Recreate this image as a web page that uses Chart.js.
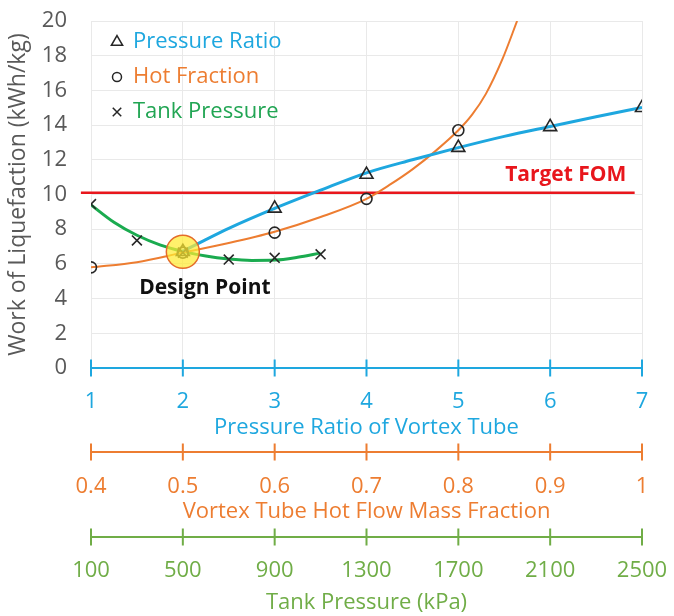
<!DOCTYPE html>
<html>
<head>
<meta charset="utf-8">
<title>Work of Liquefaction</title>
<script src="https://cdn.jsdelivr.net/npm/chart.js@4.4.1/dist/chart.umd.min.js"></script>
<style>
  html, body { margin: 0; padding: 0; background: #fff; }
  #wrap { width: 674px; height: 616px; position: relative; }
</style>
</head>
<body>
<div id="wrap"><canvas id="chart"></canvas></div>
<script>
// tick labels of the three stacked x axes
const ratioTicks = [1, 2, 3, 4, 5, 6, 7];
const hotTicks = [0.4, 0.5, 0.6, 0.7, 0.8, 0.9, 1];
const tankTicks = [100, 500, 900, 1300, 1700, 2100, 2500];

// pressure ratio (triangles) and its trend line
const ratioX = [2, 3, 4, 5, 6, 7];
const ratioWork = [6.7, 9.2, 11.15, 12.7, 13.9, 15.0];
const ratioFitX = [2, 2.25, 2.5, 3, 3.5, 4, 4.5, 5, 5.5, 6, 6.5, 7];
const ratioFitY = [6.72, 7.4, 8.05, 9.2, 10.25, 11.25, 12.0, 12.7, 13.35, 13.92, 14.48, 15.02];

// hot flow mass fraction (circles) and its trend line
const hotX = [0.4, 0.5, 0.6, 0.7, 0.8];
const hotWork = [5.8, 6.65, 7.8, 9.75, 13.7];
const hotFitX = [0.4, 0.45, 0.5, 0.55, 0.6, 0.65, 0.7, 0.725, 0.75, 0.775, 0.8, 0.815, 0.83, 0.848, 0.864];
const hotFitY = [5.8, 6.1, 6.65, 7.2, 7.85, 8.7, 9.75, 10.55, 11.45, 12.5, 13.7, 14.6, 15.8, 17.8, 20];

// tank pressure in kPa (crosses) and its trend line
const tankX = [100, 300, 500, 700, 900, 1100];
const tankWork = [9.45, 7.35, 6.65, 6.25, 6.35, 6.55];
const tankFitX = [100, 200, 300, 400, 500, 600, 700, 800, 900, 1000, 1100];
const tankFitY = [9.4, 8.4, 7.65, 7.1, 6.72, 6.45, 6.28, 6.2, 6.22, 6.38, 6.62];

// target figure of merit and design point
const targetFom = 10.1;
const targetSpan = [0.89, 6.92];
const designPoint = [2, 6.7];

const BLUE = '#1ea7df', ORANGE = '#ed7d31', GREEN = '#1aab4f', GREEN_AX = '#70ad47';
const RED = '#e8161c', GREY = '#595959', GRID = '#e9e9e9', INK = '#262626';
const FONT = "'Open Sans', sans-serif";

Chart.defaults.font.family = FONT;
Chart.defaults.font.size = 22;

const pts = (xs, ys) => xs.map((x, i) => ({ x, y: ys[i] }));
const fixTicks = list => scale => { scale.ticks = list.map(v => ({ value: v })); };
// chart.js adds tick padding into the box size and the side margins, so pin them
const fixHeight = h => scale => { scale.height = h; scale.paddingLeft = 0; scale.paddingRight = 0; };

const marker = (data, axis, style, r) => ({
  data, xAxisID: axis, pointStyle: style, pointRadius: r,
  pointBorderColor: INK, pointBackgroundColor: 'rgba(0,0,0,0)', pointBorderWidth: 1.6,
  showLine: false, order: 1
});
const trend = (data, axis, color, w) => ({
  data, xAxisID: axis, borderColor: color, borderWidth: w, pointRadius: 0,
  showLine: true, cubicInterpolationMode: 'monotone', order: 2
});

// axis lines with ticks that cross them
const rulers = {
  id: 'rulers',
  afterDraw(chart) {
    const ctx = chart.ctx;
    [['x', BLUE, 0], ['xHot', ORANGE, 10], ['xTank', GREEN_AX, 11]].forEach(([id, color, dy]) => {
      const s = chart.scales[id];
      const y = s.top + dy;
      ctx.save();
      ctx.strokeStyle = color;
      ctx.lineWidth = 2;
      ctx.beginPath();
      ctx.moveTo(s.getPixelForValue(s.min), y);
      ctx.lineTo(s.getPixelForValue(s.max), y);
      s.ticks.forEach(t => {
        const x = s.getPixelForValue(t.value);
        ctx.moveTo(x, y - 8.5);
        ctx.lineTo(x, y + 8.5);
      });
      ctx.stroke();
      ctx.restore();
    });
  }
};

// legend in the top-left corner and the two notes
const notes = {
  id: 'notes',
  afterDraw(chart) {
    const ctx = chart.ctx, a = chart.chartArea;
    const items = [
      ['triangle', 6.5, 'Pressure Ratio', BLUE],
      ['circle', 4.5, 'Hot Fraction', ORANGE],
      ['crossRot', 6, 'Tank Pressure', '#21a553']
    ];
    ctx.save();
    items.forEach(([style, r, text, color], i) => {
      const y = a.top + 21 + i * 35;
      ctx.strokeStyle = INK;
      ctx.fillStyle = 'rgba(0,0,0,0)';
      ctx.lineWidth = 1.5;
      Chart.helpers.drawPoint(ctx, { pointStyle: style, radius: r, rotation: 0, borderWidth: 1.5 }, a.left + 26, y);
      ctx.fillStyle = color;
      ctx.font = `22px ${FONT}`;
      ctx.textAlign = 'left';
      ctx.textBaseline = 'middle';
      ctx.fillText(text, a.left + 42, y);
    });
    const x = chart.scales.x, yS = chart.scales.y;
    ctx.font = `bold 21px ${FONT}`;
    ctx.fillStyle = '#111';
    ctx.textAlign = 'center';
    ctx.fillText('Design Point', x.getPixelForValue(2.24), yS.getPixelForValue(4.6));
    ctx.fillStyle = RED;
    ctx.textAlign = 'right';
    ctx.fillText('Target FOM', x.getPixelForValue(6.83), yS.getPixelForValue(11.1));
    ctx.restore();
  }
};

new Chart(document.getElementById('chart'), {
  type: 'scatter',
  data: {
    datasets: [
      { data: [{ x: designPoint[0], y: designPoint[1] }], xAxisID: 'x', pointRadius: 16.5,
        pointBackgroundColor: 'rgba(255,234,50,0.72)', pointBorderColor: '#e46c2a', pointBorderWidth: 1.5, order: 0 },
      marker(pts(ratioX, ratioWork), 'x', 'triangle', 7.5),
      marker(pts(hotX, hotWork), 'xHot', 'circle', 5.5),
      marker(pts(tankX, tankWork), 'xTank', 'crossRot', 7),
      trend(pts(ratioFitX, ratioFitY), 'x', BLUE, 3),
      trend(pts(hotFitX, hotFitY), 'xHot', ORANGE, 2),
      trend(pts(tankFitX, tankFitY), 'xTank', GREEN, 3),
      { data: targetSpan.map(x => ({ x, y: targetFom })), xAxisID: 'x', borderColor: RED, borderWidth: 2.5,
        pointRadius: 0, showLine: true, clip: false, order: 3 }
    ]
  },
  options: {
    responsive: true,
    maintainAspectRatio: false,
    animation: false,
    layout: { padding: { top: 21, right: 32, left: 0, bottom: 0 } },
    plugins: { legend: { display: false }, tooltip: { enabled: false } },
    scales: {
      y: {
        min: 0, max: 20,
        afterFit: scale => { scale.width = 91; scale.paddingTop = 0; scale.paddingBottom = 0; },
        ticks: { stepSize: 2, padding: 24, color: GREY },
        grid: { color: GRID, drawTicks: false },
        border: { display: false },
        title: { display: true, text: 'Work of Liquefaction (kWh/kg)', color: GREY, font: { size: 23 }, padding: { top: 5, bottom: 0 } }
      },
      x: {
        type: 'linear', position: 'bottom', weight: 1, min: 1, max: 7,
        afterBuildTicks: fixTicks(ratioTicks),
        afterFit: fixHeight(74),
        ticks: { padding: 21, color: BLUE, maxRotation: 0, callback: v => String(v) },
        grid: { color: GRID, drawTicks: false },
        border: { display: false },
        title: { display: true, text: 'Pressure Ratio of Vortex Tube', color: BLUE, padding: { top: 0, bottom: 1 } }
      },
      xHot: {
        type: 'linear', position: 'bottom', weight: 2, min: 0.4, max: 1,
        afterBuildTicks: fixTicks(hotTicks),
        afterFit: fixHeight(84),
        ticks: { padding: 32, color: ORANGE, maxRotation: 0, callback: v => String(v) },
        grid: { display: false, drawTicks: false },
        border: { display: false },
        title: { display: true, text: 'Vortex Tube Hot Flow Mass Fraction', color: ORANGE, padding: { top: 0, bottom: 1.5 } }
      },
      xTank: {
        type: 'linear', position: 'bottom', weight: 3, min: 100, max: 2500,
        afterBuildTicks: fixTicks(tankTicks),
        afterFit: fixHeight(90),
        ticks: { padding: 32, color: GREEN_AX, maxRotation: 0, callback: v => String(v) },
        grid: { display: false, drawTicks: false },
        border: { display: false },
        title: { display: true, text: 'Tank Pressure (kPa)', color: GREEN_AX, padding: { top: 0, bottom: 0 } }
      }
    }
  },
  plugins: [rulers, notes]
});
</script>
</body>
</html>
